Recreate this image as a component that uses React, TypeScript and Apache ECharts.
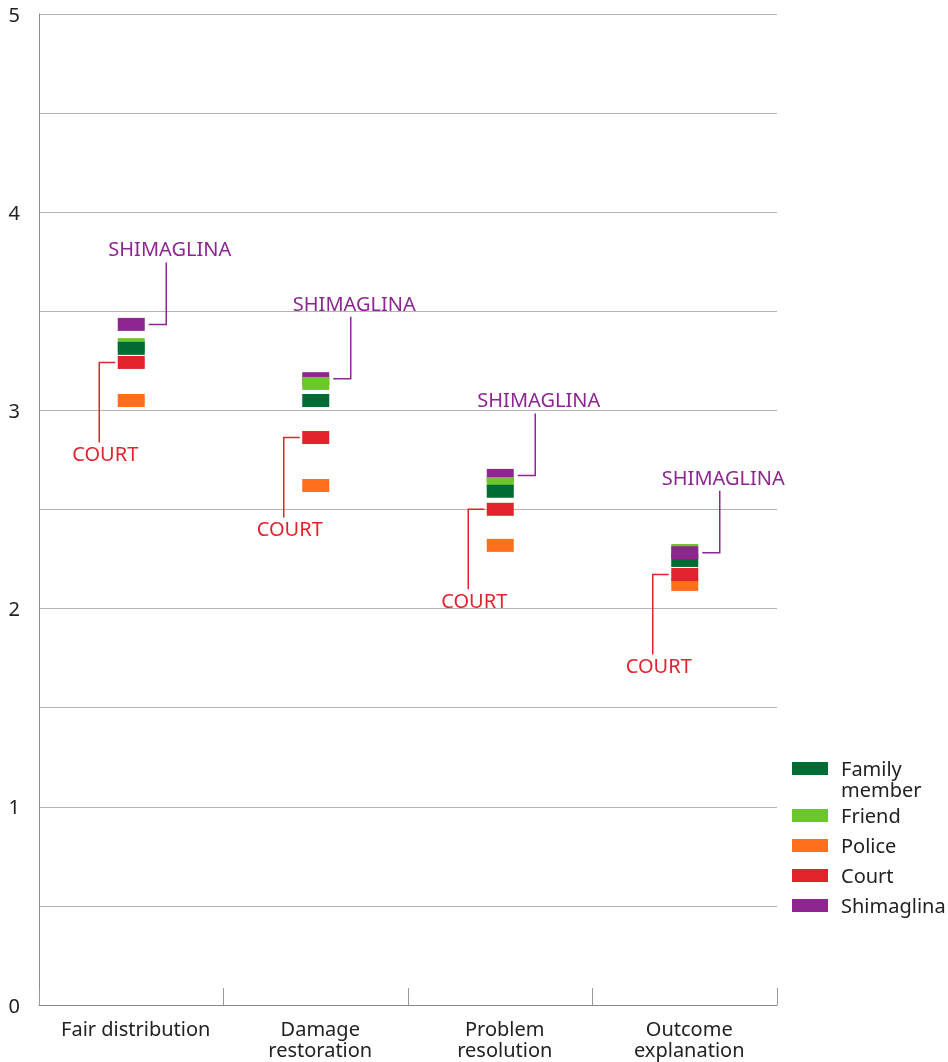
import React, { useEffect, useRef } from 'react';
import * as echarts from 'echarts';

const categories = ['Fair distribution', 'Damage\nrestoration', 'Problem\nresolution', 'Outcome\nexplanation'];
const familyMember = [3.313, 3.05, 2.592, 2.243];
const friend = [3.332, 3.136, 2.631, 2.293];
const police = [3.05, 2.621, 2.319, 2.122];
const court = [3.242, 2.863, 2.501, 2.172];
const shimaglina = [3.434, 3.16, 2.672, 2.282];
const yMin = 0;
const yMax = 5;
const yStep = 0.5;
const shimaglinaLabel = 'SHIMAGLINA';
const courtLabel = 'COURT';

const COLORS: Record<string, string> = {
  'Family member': '#006B33',
  Friend: '#6CC72E',
  Police: '#FF6E1B',
  Court: '#E2232C',
  Shimaglina: '#8E2692',
};
// category where Shimaglina marker is drawn above the others
const SHIM_TOP_INDEX = 3;
const FONT = '"Noto Sans", "Open Sans", sans-serif';

export default function App() {
  const ref = useRef<HTMLDivElement>(null);
  useEffect(() => {
    if (!ref.current) return;
    const chart = echarts.init(ref.current, null, { renderer: 'svg' });
    const sym = (name: string, data: (number | string)[], z: number) => ({
      type: 'scatter',
      name,
      data: data.map((v, i) => [i, v]).filter((d) => d[1] !== '-'),
      symbol: 'rect',
      symbolSize: [27, 13],
      itemStyle: { color: COLORS[name], opacity: 1 },
      z,
      silent: true,
      emphasis: { disabled: true },
    });
    const shimUnder = shimaglina.map((v, i) => (i === SHIM_TOP_INDEX ? '-' : v));
    const shimOver = shimaglina.map((v, i) => (i === SHIM_TOP_INDEX ? v : '-'));
    chart.setOption({
      animation: false,
      textStyle: { fontFamily: FONT },
      grid: { left: 39, right: 171, top: 14, bottom: 57, containLabel: false },
      legend: [
        {
          data: ['Family member'],
          orient: 'vertical',
          left: 792,
          top: 737,
          padding: 0,
          icon: 'rect',
          itemWidth: 36,
          itemHeight: 13,
          selectedMode: false,
          formatter: () => '\nFamily\nmember',
          textStyle: { fontSize: 20, color: '#222', lineHeight: 21, padding: [0, 0, 0, 8], fontFamily: FONT },
        },
        {
          data: ['Friend', 'Police', 'Court', 'Shimaglina'],
          orient: 'vertical',
          left: 792,
          top: 805,
          padding: 0,
          itemGap: 9,
          icon: 'rect',
          itemWidth: 36,
          itemHeight: 13,
          selectedMode: false,
          textStyle: { fontSize: 20, color: '#222', lineHeight: 21, padding: [0, 0, 0, 8], fontFamily: FONT },
        },
      ],
      xAxis: {
        type: 'category',
        data: categories,
        boundaryGap: true,
        axisLine: { show: true, lineStyle: { color: '#8a8a8a', width: 1 } },
        axisTick: { show: true, inside: true, length: 17, interval: 0, lineStyle: { color: '#9a9a9a' } },
        axisLabel: {
          fontSize: 20,
          color: '#222',
          lineHeight: 21,
          margin: 13,
          interval: 0,
          padding: [0, 0, 0, 9],
          fontFamily: FONT,
        },
        splitLine: { show: false },
      },
      yAxis: {
        type: 'value',
        min: yMin,
        max: yMax,
        interval: yStep,
        axisLine: { show: true, lineStyle: { color: '#8a8a8a', width: 1 } },
        axisTick: { show: false },
        axisLabel: {
          fontSize: 20,
          color: '#222',
          margin: 19,
          fontFamily: FONT,
          formatter: (v: number) => (Number.isInteger(v) ? String(v) : ''),
        },
        splitLine: { show: true, lineStyle: { color: '#b3b3b3', width: 1 } },
      },
      series: [
        sym('Shimaglina', shimUnder, 2),
        sym('Friend', friend, 3),
        sym('Family member', familyMember, 4),
        sym('Police', police, 5),
        sym('Court', court, 6),
        sym('Shimaglina', shimOver, 7),
      ],
    });

    const g: any[] = [];
    categories.forEach((_, i) => {
      const [sx, sy] = chart.convertToPixel({ seriesIndex: 1 }, [i, shimaglina[i]]) as number[];
      g.push({
        type: 'polyline',
        silent: true,
        z: 10,
        shape: { points: [[sx + 17.5, sy], [sx + 35, sy], [sx + 35, sy - 62]] },
        style: { stroke: COLORS.Shimaglina, lineWidth: 1.5, fill: 'none' },
      });
      g.push({
        type: 'text',
        silent: true,
        z: 10,
        x: sx + 38.5,
        y: sy - 75.5,
        style: {
          text: shimaglinaLabel,
          fill: COLORS.Shimaglina,
          font: `20px ${FONT}`,
          textAlign: 'center',
          textVerticalAlign: 'middle',
        },
      });
      const [cx, cy] = chart.convertToPixel({ seriesIndex: 1 }, [i, court[i]]) as number[];
      g.push({
        type: 'polyline',
        silent: true,
        z: 10,
        shape: { points: [[cx - 16, cy], [cx - 32, cy], [cx - 32, cy + 80]] },
        style: { stroke: COLORS.Court, lineWidth: 1.5, fill: 'none' },
      });
      g.push({
        type: 'text',
        silent: true,
        z: 10,
        x: cx - 26,
        y: cy + 91,
        style: {
          text: courtLabel,
          fill: COLORS.Court,
          font: `20px ${FONT}`,
          textAlign: 'center',
          textVerticalAlign: 'middle',
        },
      });
    });
    chart.setOption({ graphic: g });

    return () => chart.dispose();
  }, []);
  return <div ref={ref} style={{ position: 'fixed', left: 0, top: 0, width: 948, height: 1062 }} />;
}
